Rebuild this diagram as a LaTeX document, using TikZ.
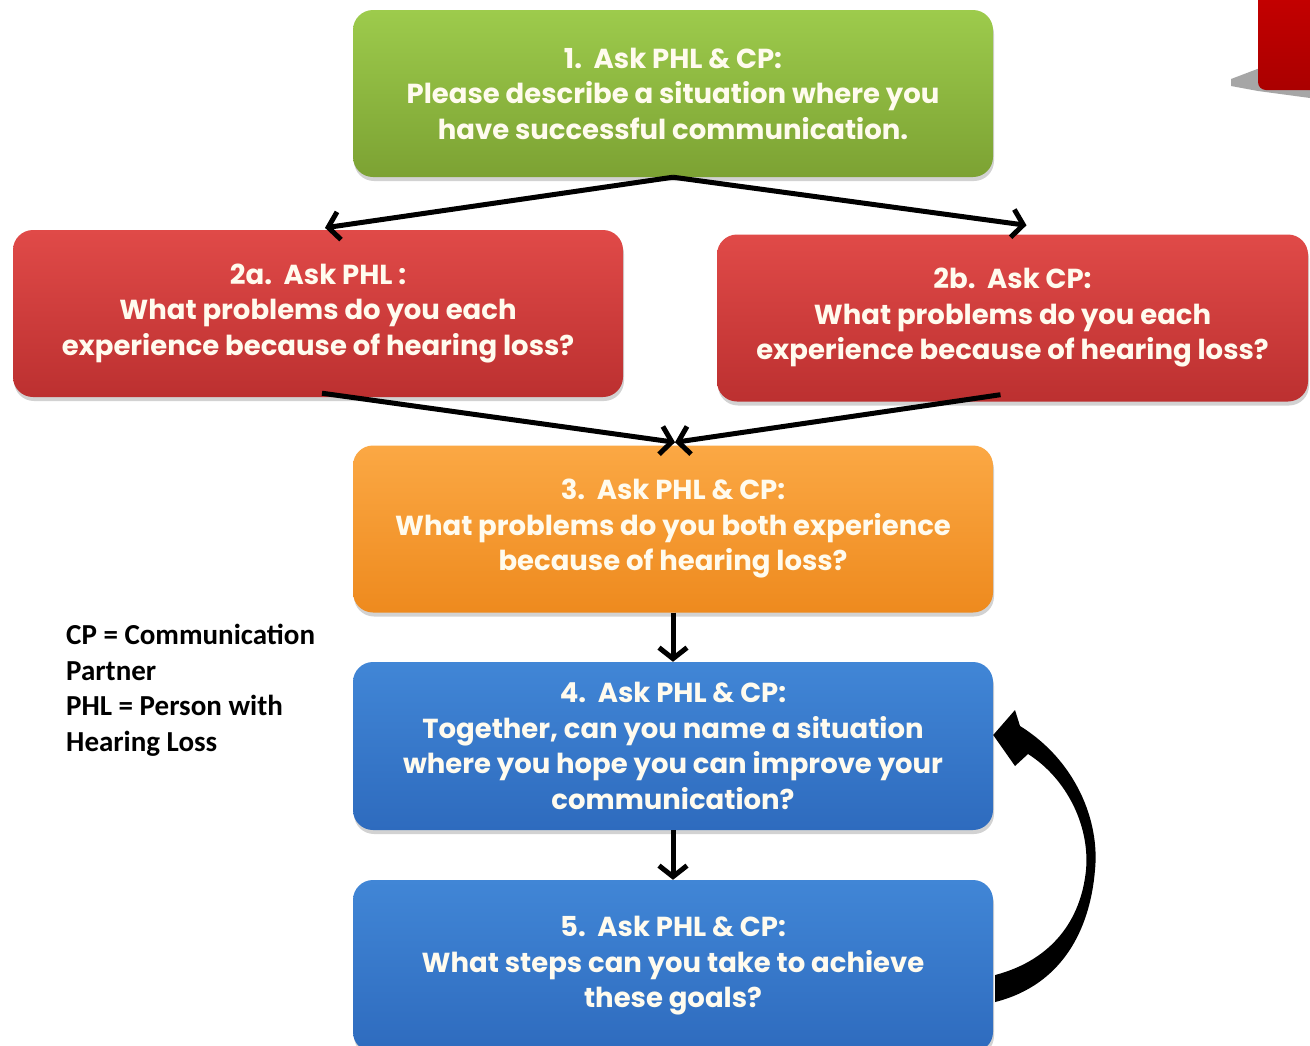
\documentclass[tikz,border=0pt]{standalone}
\usepackage{fontspec}
\setmainfont{Poppins}
\newfontfamily\legendfont{Carlito}
\usetikzlibrary{arrows.meta,shadows,calc}

\definecolor{grnTop}{HTML}{9DCB4C}
\definecolor{grnBot}{HTML}{7CA233}
\definecolor{redTop}{HTML}{E04A48}
\definecolor{redBot}{HTML}{BC3030}
\definecolor{orgTop}{HTML}{FBA844}
\definecolor{orgBot}{HTML}{EE8A1E}
\definecolor{bluTop}{HTML}{4186D6}
\definecolor{bluBot}{HTML}{2E6BBE}
\definecolor{txtcol}{HTML}{FFFBEE}
\definecolor{cornerRed}{HTML}{C80000}

\tikzset{
  stepbox/.style={rounded corners=20pt, minimum width=640pt, minimum height=167pt,
    align=center, text=txtcol, font=\bfseries\fontsize{27.5}{35.5}\selectfont,
    inner sep=0pt,
    drop shadow={opacity=0.35, shadow xshift=1pt, shadow yshift=-4pt}},
  greenbox/.style={stepbox, top color=grnTop, bottom color=grnBot},
  redbox/.style={stepbox, top color=redTop, bottom color=redBot},
  orangebox/.style={stepbox, top color=orgTop, bottom color=orgBot},
  bluebox/.style={stepbox, top color=bluTop, bottom color=bluBot},
  flow/.style={line width=5pt, black,
    -{Straight Barb[length=11pt, width=28pt, line width=5pt]}},
}

\begin{document}
\begin{tikzpicture}[x=1pt, y=-1pt]
\clip (0,0) rectangle (1310,1045);
\fill[white] (0,0) rectangle (1310,1045);

% corner ornament at the top right
\fill[gray!70] (1231,79) -- (1260,68) -- (1310,84) -- (1310,98) -- (1258,91) -- (1231,86) -- cycle;
\shade[top color=cornerRed, bottom color=cornerRed!85!black, rounded corners=8pt]
  (1258,-20) rectangle (1330,90);

% step boxes
\node[greenbox] (b1) at (673,93.5) {1.\ \ Ask PHL \& CP:\\Please describe a situation where you\\have successful communication.};
\node[redbox, minimum width=610pt] (b2a) at (318,313.5) {2a.\ \ Ask PHL :\\What problems do you each\\experience because of hearing loss?};
\node[redbox, minimum width=591pt] (b2b) at (1012.5,318) {2b.\ \ Ask CP:\\What problems do you each\\experience because of hearing loss?};
\node[orangebox] (b3) at (673,529) {3.\ \ Ask PHL \& CP:\\What problems do you both experience\\because of hearing loss?};
\node[bluebox, minimum height=168pt] (b4) at (673,746) {4.\ \ Ask PHL \& CP:\\Together, can you name a situation\\where you hope you can improve your\\communication?};
\node[bluebox, minimum height=172pt] (b5) at (673,966) {5.\ \ Ask PHL \& CP:\\What steps can you take to achieve\\these goals?};

% legend
\node[anchor=north west, align=left, font=\legendfont\bfseries\fontsize{29}{35.5}\selectfont, inner sep=0pt]
  (legend) at (66,624) {CP = Communication\\Partner\\PHL = Person with\\Hearing Loss};

% connectors
\draw[flow] (b1.south) -- ($(b2a.north)+(7,-2)$);
\draw[flow] (b1.south) -- ($(b2b.north)+(14,-9)$);
\draw[flow] ($(b2a.south)+(4,-4)$) -- ($(b3.north)+(2,-3)$);
\draw[flow] ($(b2b.south)+(-12,-7)$) -- ($(b3.north)+(2,-3)$);
\draw[flow] (b3.south) -- (b4.north);
\draw[flow] (b4.south) -- (b5.north);

% curved return arrow from step 5 back to step 4
\coordinate (tip) at ($(b4.east)+(0,-11)$);
\fill[black] (tip) -- (1015,710) -- (1020,726)
  .. controls (1075,760) and (1100,820) .. (1095,870)
  .. controls (1090,930) and (1062,985) .. ($(b5.east)+(2,36)$)
  -- ($(b5.east)+(2,9)$)
  .. controls (1052,960) and (1081,920) .. (1086,870)
  .. controls (1090,825) and (1066,778) .. (1028,754)
  -- (1015,766) -- cycle;
\end{tikzpicture}
\end{document}
